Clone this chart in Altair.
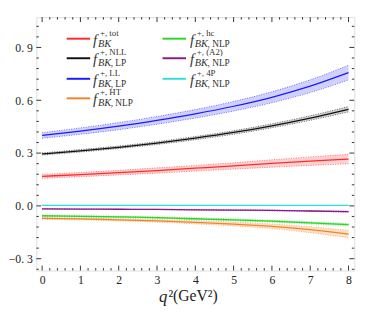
import altair as alt
import pandas as pd

q2 = [0, 1, 2, 3, 4, 5, 6, 7, 8]

tot = [0.168, 0.178, 0.189, 0.201, 0.214, 0.227, 0.241, 0.254, 0.266]
tot_err = [0.011, 0.012, 0.013, 0.015, 0.016, 0.018, 0.021, 0.024, 0.027]
nll = [0.295, 0.313, 0.333, 0.357, 0.385, 0.417, 0.455, 0.499, 0.549]
nll_err = [0.006, 0.007, 0.007, 0.008, 0.009, 0.010, 0.011, 0.013, 0.015]
ll = [0.400, 0.425, 0.453, 0.486, 0.523, 0.566, 0.617, 0.680, 0.757]
ll_err = [0.016, 0.018, 0.020, 0.022, 0.024, 0.027, 0.031, 0.036, 0.042]
ht = [-0.071, -0.074, -0.079, -0.085, -0.093, -0.103, -0.116, -0.135, -0.160]
ht_err = [0.005, 0.005, 0.006, 0.007, 0.009, 0.011, 0.013, 0.017, 0.021]
hc = [-0.056, -0.059, -0.063, -0.067, -0.073, -0.079, -0.087, -0.096, -0.107]
hc_err = [0.004, 0.004, 0.004, 0.004, 0.005, 0.005, 0.005, 0.006, 0.006]
a2 = [-0.017, -0.018, -0.019, -0.020, -0.022, -0.024, -0.026, -0.029, -0.033]
a2_err = [0.001, 0.001, 0.001, 0.001, 0.002, 0.002, 0.002, 0.002, 0.003]
p4 = [0.003, 0.003, 0.003, 0.003, 0.003, 0.003, 0.003, 0.003, 0.003]
p4_err = [0.001, 0.001, 0.001, 0.001, 0.001, 0.001, 0.001, 0.001, 0.001]

series = ["tot", "nll", "ll", "ht", "hc", "a2", "p4"]
vals = [tot, nll, ll, ht, hc, a2, p4]
errs = [tot_err, nll_err, ll_err, ht_err, hc_err, a2_err, p4_err]
colors = ["#ff2a2a", "#111111", "#1a1aff", "#f0842c", "#2ad62a", "#8a1a8a", "#33dddd"]
fills = ["#ff9a9a", "#999999", "#9a9aff", "#ffbf8a", "#8aee8a", "#c48ac4", "#9aeeee"]

sup_texts = ["+, tot", "+, NLL", "+, LL", "+, HT", "+, hc", "+, (A2)", "+, 4P"]
sub_tails = ["", ", LP", ", LP", ", NLP", ", NLP", ", NLP", ", NLP"]

rows = []
for s, v, e in zip(series, vals, errs):
    for q, vv, ee in zip(q2, v, e):
        rows.append({"s": s, "q": q, "v": vv, "lo": vv - ee, "hi": vv + ee})
df = pd.DataFrame(rows)

W, H = 325, 259
xdom = [-0.15, 8.15]
ydom = [-0.367, 1.072]
xs = alt.Scale(domain=xdom, nice=False, zero=False)
ys = alt.Scale(domain=ydom, nice=False, zero=False)
cs = alt.Scale(domain=series, range=colors)
fs = alt.Scale(domain=series, range=fills)

x_major = [0, 1, 2, 3, 4, 5, 6, 7, 8]
y_major = [-0.3, 0.0, 0.3, 0.6, 0.9]

base = alt.Chart(df)
xenc = alt.X("q:Q", scale=xs,
             axis=alt.Axis(values=x_major, ticks=False, domain=False, grid=False,
                           labelFont="Liberation Serif", labelFontSize=12,
                           labelColor="#222", labelPadding=4, title=None))
yenc = alt.Y("v:Q", scale=ys,
             axis=alt.Axis(values=y_major, ticks=False, domain=False, grid=False,
                           labelFont="Liberation Serif", labelFontSize=12,
                           labelColor="#222", labelPadding=4, title=None,
                           labelExpr="replace(replace(format(datum.value, '.1f'), '.', '. '), '-', '\u2212')"))

band = base.mark_area(opacity=0.45, interpolate="monotone").encode(
    x=xenc, y=alt.Y("lo:Q", scale=ys), y2="hi:Q",
    color=alt.Color("s:N", scale=fs, legend=None))
edge_lo = base.mark_line(strokeDash=[1, 1.5], strokeWidth=1, opacity=0.6, interpolate="monotone").encode(
    x="q:Q", y=alt.Y("lo:Q", scale=ys), detail="s:N",
    color=alt.Color("s:N", scale=cs, legend=None))
edge_hi = base.mark_line(strokeDash=[1, 1.5], strokeWidth=1, opacity=0.6, interpolate="monotone").encode(
    x="q:Q", y=alt.Y("hi:Q", scale=ys), detail="s:N",
    color=alt.Color("s:N", scale=cs, legend=None))
center = base.mark_line(strokeWidth=1.3, interpolate="monotone").encode(
    x="q:Q", y=yenc, detail="s:N",
    color=alt.Color("s:N", scale=cs, legend=None))

def frange(a, b, step):
    out = []
    k = 0
    while True:
        val = round(a + k * step, 6)
        if val > b + 1e-9:
            break
        out.append(val)
        k += 1
    return out

xt_minor = [t for t in frange(0, 8, 0.2) if abs(t - round(t)) > 1e-6]
yt_minor = [t for t in frange(-0.36, 1.05, 0.06) if min(abs(t - m) for m in y_major) > 1e-6]

def xticks(vals_, L):
    d = pd.DataFrame({"t": vals_})
    c = alt.Chart(d)
    b = c.mark_rule(color="black", strokeWidth=0.8).encode(
        x=alt.X("t:Q", scale=xs), y=alt.value(H), y2=alt.value(H - L))
    t = c.mark_rule(color="black", strokeWidth=0.8).encode(
        x=alt.X("t:Q", scale=xs), y=alt.value(0), y2=alt.value(L))
    return b + t

def yticks(vals_, L):
    d = pd.DataFrame({"t": vals_})
    c = alt.Chart(d)
    l = c.mark_rule(color="black", strokeWidth=0.8).encode(
        y=alt.Y("t:Q", scale=ys), x=alt.value(0), x2=alt.value(L))
    r = c.mark_rule(color="black", strokeWidth=0.8).encode(
        y=alt.Y("t:Q", scale=ys), x=alt.value(W), x2=alt.value(W - L))
    return l + r

ticks = xticks(x_major, 5) + xticks(xt_minor, 2.5) + yticks(y_major, 5) + yticks(yt_minor, 2.5)

# legend
row_y = [22, 42, 63, 83, 22, 42, 63]
line_x0 = [31, 31, 31, 31, 129, 129, 129]
f_x = [58, 58, 58, 58, 157, 157, 157]
leg = pd.DataFrame({
    "s": series, "y": row_y, "x0": line_x0, "x1": [x + 24 for x in line_x0],
    "fx": f_x, "fy": [y + 1 for y in row_y],
    "supx": [x + 7 for x in f_x], "supy": [y - 6 for y in row_y],
    "subx": [x + 5 for x in f_x], "suby": [y + 5 for y in row_y],
    "tailx": [x + 18 for x in f_x],
    "sup": sup_texts, "tail": sub_tails, "bk": ["BK"] * 7, "f": ["f"] * 7,
})
lc = alt.Chart(leg)
leg_lines = lc.mark_rule(strokeWidth=2).encode(
    x=alt.X("x0:Q", scale=None), x2="x1:Q", y=alt.Y("y:Q", scale=None),
    color=alt.Color("s:N", scale=cs, legend=None))
leg_f = lc.mark_text(font="Liberation Serif", fontStyle="italic", fontSize=15,
                     align="left", baseline="middle", color="#333").encode(
    x=alt.X("fx:Q", scale=None), y=alt.Y("fy:Q", scale=None), text="f:N")
leg_sup = lc.mark_text(font="Liberation Serif", fontSize=9,
                       align="left", baseline="middle", color="#333").encode(
    x=alt.X("supx:Q", scale=None), y=alt.Y("supy:Q", scale=None), text="sup:N")
leg_bk = lc.mark_text(font="Liberation Serif", fontStyle="italic", fontSize=10.5,
                      align="left", baseline="middle", color="#333").encode(
    x=alt.X("subx:Q", scale=None), y=alt.Y("suby:Q", scale=None), text="bk:N")
leg_tail = lc.mark_text(font="Liberation Serif", fontSize=9.5,
                        align="left", baseline="middle", color="#333").encode(
    x=alt.X("tailx:Q", scale=None), y=alt.Y("suby:Q", scale=None), text="tail:N")

# x-axis title
tdf = pd.DataFrame({"a": [0]})
t_q = alt.Chart(tdf).mark_text(text="q", font="Liberation Serif", fontStyle="italic",
                               fontSize=17, align="right", baseline="middle", color="#222").encode(
    x=alt.value(134), y=alt.value(H + 27))
t_rest = alt.Chart(tdf).mark_text(text="\u00b2(GeV\u00b2)", font="Liberation Serif",
                                  fontSize=16, align="left", baseline="middle", color="#222").encode(
    x=alt.value(135), y=alt.value(H + 26))

chart = alt.layer(
    band, edge_lo, edge_hi, center, ticks,
    leg_lines, leg_f, leg_sup, leg_bk, leg_tail, t_q, t_rest
).resolve_scale(color="independent").properties(
    width=W, height=H,
    autosize=alt.AutoSizeParams(type="none"),
    padding={"left": 29, "top": 6, "right": 12, "bottom": 37},
).configure_view(stroke="black", strokeWidth=1.5).configure(background="white")

chart.save("out.html", embed_options={"renderer": "svg", "actions": False})
